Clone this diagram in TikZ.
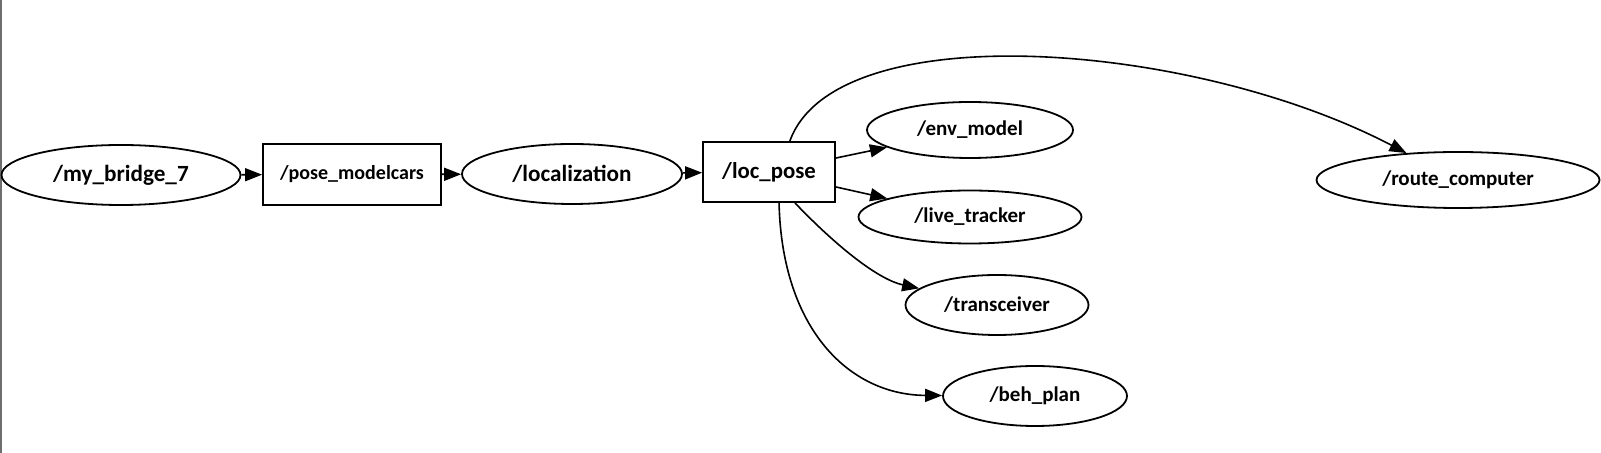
\documentclass[tikz,border=0pt]{standalone}
\usepackage{fontspec}
\setmainfont{Carlito}
\usepackage{tikz}
\usetikzlibrary{shapes.geometric, arrows.meta, positioning}
\definecolor{mydark}{RGB}{0,0,0}
\definecolor{mgframe}{RGB}{110,110,110}
\tikzset{
  rosnode/.style={ellipse, draw=mydark, inner sep=0pt, line width=0.9pt,
    font=\fontsize{10.5}{12}\selectfont\bfseries},
  topicbox/.style={rectangle, draw=mydark, inner sep=0pt, line width=0.9pt,
    font=\fontsize{10.5}{12}\selectfont\bfseries},
  bigtext/.style={font=\fontsize{11.6}{13}\selectfont\bfseries},
  arrow/.style={-{Triangle[length=8.5pt, width=6.5pt]}, line width=0.8pt, color=mydark}
}
\begin{document}
\begin{tikzpicture}[x=0.5pt, y=-0.5pt]
  \useasboundingbox (0,0) rectangle (1601,453);
  % window edge
  \draw[mgframe, line width=1pt] (1,0) -- (1,453);

  % chain along the middle
  \node[rosnode, bigtext, minimum width=119.5pt, minimum height=30pt] (bridge) at (121,175) {/my\_bridge\_7};
  \node[topicbox, font=\fontsize{10}{12}\selectfont\bfseries, minimum width=89pt, minimum height=30.5pt] (posemc) at (352,174.5) {/pose\_modelcars};
  \node[rosnode, bigtext, minimum width=110pt, minimum height=30pt] (loc) at (572,174) {/localization};
  \node[topicbox, font=\fontsize{11.4}{13}\selectfont\bfseries, minimum width=66pt, minimum height=30pt] (locpose) at (769,172) {/loc\_pose};

  % subscribers of /loc_pose
  \node[rosnode, minimum width=103pt, minimum height=28pt] (env) at (970,130) {/env\_model};
  \node[rosnode, minimum width=111.5pt, minimum height=26.5pt] (tracker) at (970,217) {/live\_tracker};
  \node[rosnode, minimum width=91.5pt, minimum height=30pt] (trx) at (997,305) {/transceiver};
  \node[rosnode, minimum width=92pt, minimum height=30pt] (beh) at (1035,396) {/beh\_plan};
  \node[rosnode, minimum width=141.5pt, minimum height=28pt] (route) at (1458,180) {/route\_computer};

  \draw[arrow] (bridge) -- (posemc);
  \draw[arrow] (posemc) -- (loc);
  \draw[arrow] (loc) -- (locpose);
  \draw[arrow] (locpose) -- (env);
  \draw[arrow] (locpose) -- (tracker);
  \draw[arrow] (locpose.-50) .. controls (840,250) and (880,280) .. (trx);
  \draw[arrow] (locpose.-72) .. controls (782,330) and (850,395) .. (beh);
  \draw[arrow] (locpose.56) .. controls (835,15) and (1190,40) .. (route);
\end{tikzpicture}
\end{document}
